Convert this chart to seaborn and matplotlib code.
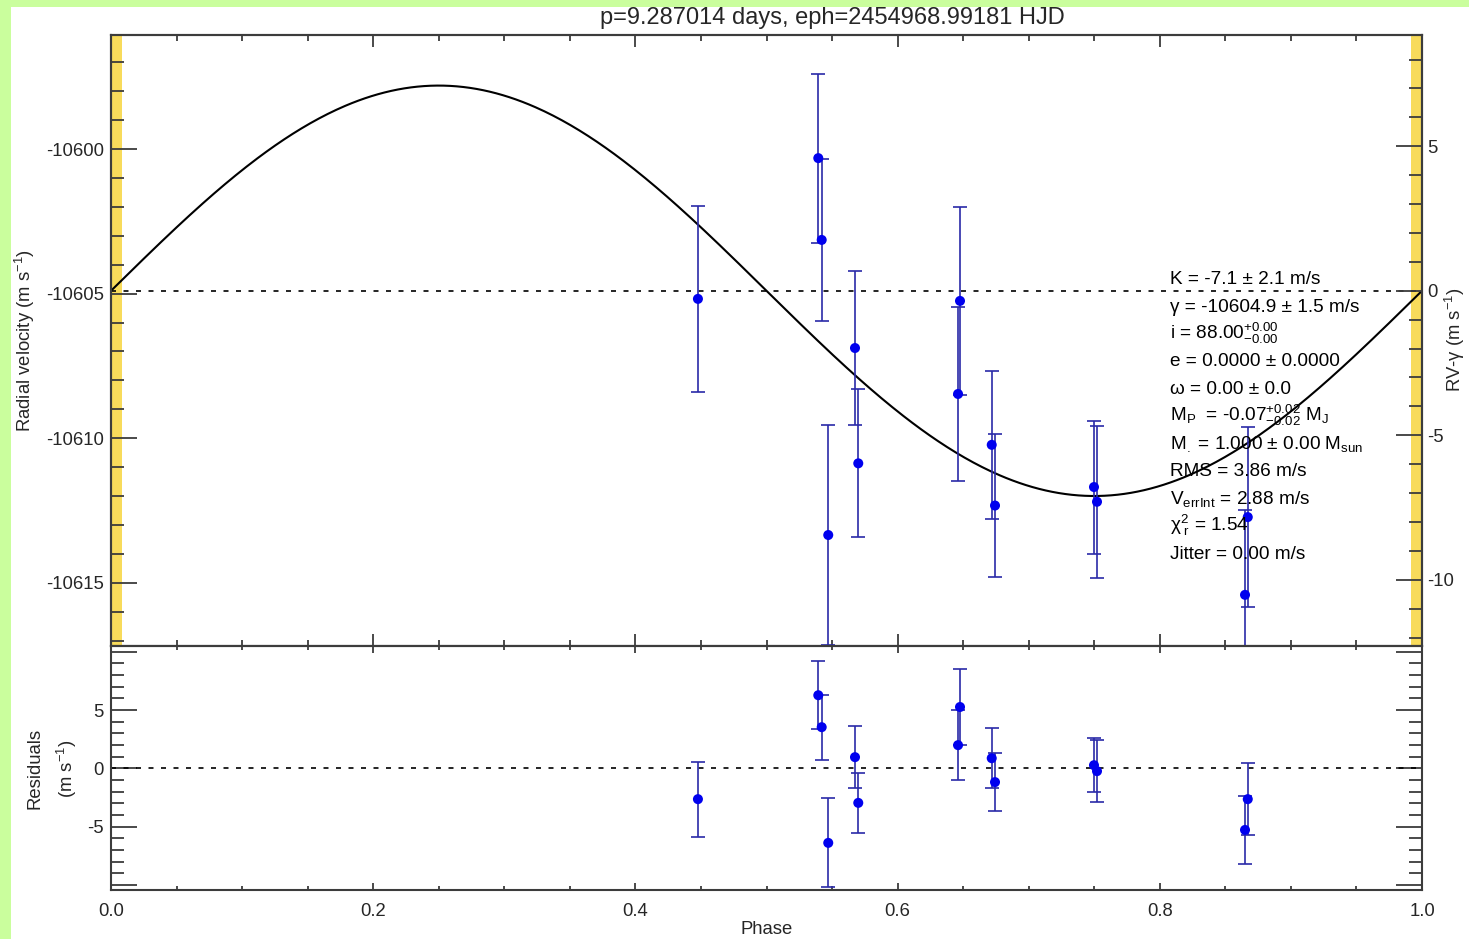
import numpy as np
import pandas as pd
import matplotlib
matplotlib.use("Agg")
import matplotlib.pyplot as plt
import seaborn as sns
from matplotlib.ticker import MultipleLocator, FixedLocator, FixedFormatter
from matplotlib.patches import Rectangle

# ---------------- data ----------------
phase = [0.4477, 0.5395, 0.5421, 0.5471, 0.5675, 0.5700, 0.6461, 0.6476,
         0.6718, 0.6743, 0.7498, 0.7521, 0.8671, 0.8650]
rv = [-10605.18, -10600.31, -10603.14, -10613.35, -10606.88, -10610.87, -10608.47,
      -10605.25, -10610.23, -10612.33, -10611.69, -10612.20, -10612.73, -10615.42]
rv_err = [3.22, 2.92, 2.79, 3.81, 2.66, 2.56, 3.00, 3.25, 2.57, 2.46, 2.30, 2.63, 3.11, 2.94]
resid = [-2.63, 6.28, 3.54, -6.38, 0.97, -2.95, 2.00, 5.27, 0.88, -1.17, 0.28, -0.23, -2.63, -5.27]

K = -7.1
gamma = -10604.9
yellow_spans = [(0.0, 0.0084), (0.9916, 1.0)]

title = "p=9.287014 days, eph=2454968.99181 HJD"
info_lines = [
    "K = -7.1 \u00b1 2.1 m/s",
    "\u03b3 = -10604.9 \u00b1 1.5 m/s",
    "i = 88.00$^{+0.00}_{-0.00}$",
    "e = 0.0000 \u00b1 0.0000",
    "\u03c9 = 0.00 \u00b1 0.0",
    "M$_{P}$  = -0.07$^{+0.02}_{-0.02}$ M$_{J}$",
    "M$_{.}$ = 1.000 \u00b1 0.00 M$_{sun}$",
    "RMS = 3.86 m/s",
    "V$_{errInt}$ = 2.88 m/s",
    "$\\chi^{2}_{\\ r}$ = 1.54",
    "Jitter = 0.00 m/s",
]

df = pd.DataFrame({"phase": phase, "rv": rv, "err": rv_err, "resid": resid})
model_phase = np.linspace(0, 1, 600)
model = pd.DataFrame({"phase": model_phase,
                      "rv": gamma - K * np.sin(2 * np.pi * model_phase)})

# ---------------- style ----------------
sns.set_theme(style="white")
plt.rcParams.update({
    "font.family": ["Liberation Sans", "DejaVu Sans"],
    "mathtext.fontset": "custom",
    "mathtext.rm": "Liberation Sans",
    "mathtext.it": "Liberation Sans",
    "mathtext.bf": "Liberation Sans:bold",
    "mathtext.default": "regular",
    "axes.unicode_minus": False,
})

W, H = 1469, 939
GREEN = "#CAFE9D"
YELLOW = "#F8DB5B"
SPINE = "#3c3c3c"
EBAR = "#2a2aa8"
MARK = "#0000ee"
FS = 13.3


def fx(x):
    return x / W


def fy(y):
    return 1 - y / H


fig = plt.figure(figsize=(W / 100, H / 100), dpi=100)
fig.patch.set_facecolor(GREEN)
fig.patches.append(Rectangle((fx(11), 0), 1, fy(7), transform=fig.transFigure,
                             facecolor="white", edgecolor="none", zorder=-10))

L, R = 111, 1422
T1, B1, B2 = 35, 646, 890
ax1 = fig.add_axes([fx(L), fy(B1), fx(R - L), (B1 - T1) / H])
ax2 = fig.add_axes([fx(L), fy(B2), fx(R - L), (B2 - B1) / H])

ylo, yhi = -10617.19, -10596.05

# ---------------- top panel ----------------
for a, b in yellow_spans:
    ax1.axvspan(a, b, color=YELLOW, lw=0, zorder=0)
ax1.axhline(gamma, color="black", lw=1.2, ls=(0, (3, 4.5)), zorder=1)
sns.lineplot(data=model, x="phase", y="rv", ax=ax1, color="black", lw=1.5, zorder=2)
ax1.errorbar(df["phase"], df["rv"], yerr=df["err"], fmt="none", ecolor=EBAR,
             elinewidth=1.2, capsize=4.7, capthick=1.2, zorder=3)
sns.scatterplot(data=df, x="phase", y="rv", ax=ax1, color=MARK, s=52,
                edgecolor="none", zorder=4)
ax1.set_xlim(0, 1)
ax1.set_ylim(ylo, yhi)
ax1.set_xlabel("")
ax1.set_ylabel("")

axr = ax1.twinx()
axr.set_ylim(ylo - gamma, yhi - gamma)
axr.yaxis.set_major_locator(MultipleLocator(5))
axr.yaxis.set_minor_locator(MultipleLocator(1))

ax1.xaxis.set_major_locator(MultipleLocator(0.2))
ax1.xaxis.set_minor_locator(MultipleLocator(0.05))
ax1.yaxis.set_major_locator(MultipleLocator(5))
ax1.yaxis.set_minor_locator(MultipleLocator(1))

ax1.tick_params(axis="x", which="both", direction="in", top=True, bottom=True,
                labelbottom=False, color=SPINE, width=1.3)
ax1.tick_params(axis="x", which="major", length=8.6)
ax1.tick_params(axis="x", which="minor", length=4.3)
ax1.tick_params(axis="y", which="both", direction="in", left=True, right=False,
                color=SPINE, width=1.3, labelsize=FS, pad=5)
ax1.tick_params(axis="y", which="major", length=18.7)
ax1.tick_params(axis="y", which="minor", length=9.4)
axr.tick_params(axis="y", which="both", direction="in", right=True, left=False,
                color=SPINE, width=1.3, labelsize=FS, pad=3.5)
axr.tick_params(axis="y", which="major", length=18.7)
axr.tick_params(axis="y", which="minor", length=9.4)

for a in (ax1, axr, ax2):
    for s in a.spines.values():
        s.set_color(SPINE)
        s.set_linewidth(1.5)

# info text
xt = (1170 - L) / (R - L)
for i, line in enumerate(info_lines):
    yb = 284 + 27.5 * i
    ax1.text(xt, (B1 - yb) / (B1 - T1), line, transform=ax1.transAxes,
             fontsize=13.7, ha="left", va="baseline", color="black", zorder=5)

# ---------------- residual panel ----------------
ax2.axhline(0, color="black", lw=1.2, ls=(0, (3, 4.5)), zorder=1)
ax2.errorbar(df["phase"], df["resid"], yerr=df["err"], fmt="none", ecolor=EBAR,
             elinewidth=1.2, capsize=4.7, capthick=1.2, zorder=3)
sns.scatterplot(data=df, x="phase", y="resid", ax=ax2, color=MARK, s=52,
                edgecolor="none", zorder=4)
ax2.set_xlim(0, 1)
ax2.set_ylim(-10.42, 10.5)
ax2.set_xlabel("")
ax2.set_ylabel("")
ax2.xaxis.set_major_locator(MultipleLocator(0.2))
ax2.xaxis.set_minor_locator(MultipleLocator(0.05))
ax2.xaxis.set_major_formatter(matplotlib.ticker.FormatStrFormatter("%.1f"))
ax2.yaxis.set_major_locator(FixedLocator([-10, -5, 0, 5, 10]))
ax2.yaxis.set_major_formatter(FixedFormatter(["", "-5", "0", "5", ""]))
ax2.yaxis.set_minor_locator(MultipleLocator(1))
ax2.tick_params(axis="x", which="both", direction="in", top=True, bottom=True,
                color=SPINE, width=1.3, labelsize=FS, pad=9)
ax2.tick_params(axis="x", which="major", length=5)
ax2.tick_params(axis="x", which="minor", length=2.9)
ax2.tick_params(axis="y", which="both", direction="in", left=True, right=True,
                color=SPINE, width=1.3, labelsize=FS, pad=5)
ax2.tick_params(axis="y", which="major", length=18.7)
ax2.tick_params(axis="y", which="minor", length=9.4)

# ---------------- labels ----------------
fig.text(fx(832), fy(18), title, fontsize=17, ha="center", va="center")
fig.text(fx(767), fy(929), "Phase", fontsize=FS, ha="center", va="center")
fig.text(fx(25), fy(341), "Radial velocity (m s$^{-1}$)", fontsize=FS,
         rotation=90, ha="center", va="center")
fig.text(fx(35), fy(768), "Residuals", fontsize=FS, rotation=90, ha="center", va="center")
fig.text(fx(67), fy(769), "(m s$^{-1}$)", fontsize=FS, rotation=90, ha="center", va="center")
fig.text(fx(1467), fy(340), "RV-\u03b3 (m s$^{-1}$)", fontsize=FS, rotation=90,
         ha="right", va="center")

fig.savefig("out.png", dpi=100, facecolor=fig.get_facecolor())
